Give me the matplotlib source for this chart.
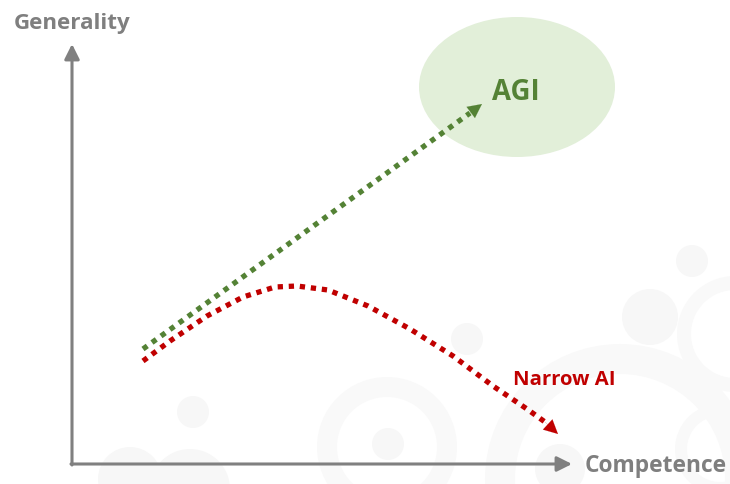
import matplotlib
matplotlib.use("Agg")
import matplotlib.pyplot as plt
from matplotlib.patches import Ellipse, Circle

# diagram coordinates (x to the right, y downwards, in figure pixels)
GREEN_X = [143, 470]
GREEN_Y = [350, 114]
GREEN_TIP = (482, 105)

RED_X = [143, 170, 207, 243, 275, 297, 328, 368, 410, 453, 493, 527, 545]
RED_Y = [362, 342, 317, 298, 288, 287, 291, 307, 330, 357, 387, 410, 423]
RED_TIP = (558, 435)

AXIS_ORIGIN = (72, 465)
AXIS_X_END = 572
AXIS_Y_END = 45

AGI_CENTER = (517, 88)
AGI_SIZE = (196, 140)

# faint decorative background circles: (x, y, radius, ring width or None)
BG_CIRCLES = [
    (193, 413, 16, None),
    (388, 445, 16, None),
    (387, 448, 70, 20),
    (130, 480, 32, None),
    (190, 490, 40, None),
    (467, 340, 16, None),
    (692, 262, 16, None),
    (650, 318, 28, None),
    (735, 335, 58, 14),
    (620, 480, 135, 30),
    (720, 450, 45, 12),
    (560, 470, 25, None),
]

GRAY = "#7f7f7f"
GREEN = "#548235"
RED = "#c00000"
FONT = ["Open Sans", "DejaVu Sans"]

fig = plt.figure(figsize=(7.3, 4.85), dpi=100)
ax = fig.add_axes([0, 0, 1, 1])
ax.set_xlim(0, 730)
ax.set_ylim(485, 0)
ax.axis("off")

for cx, cy, r, w in BG_CIRCLES:
    if w is None:
        ax.add_patch(Circle((cx, cy), r, facecolor="#f7f7f7", edgecolor="none", zorder=0))
    else:
        ax.add_patch(Circle((cx, cy), r - w / 2, facecolor="none", edgecolor="#f9f9f9",
                            linewidth=w * 0.72, zorder=0))

ax.add_patch(Ellipse(AGI_CENTER, AGI_SIZE[0], AGI_SIZE[1], facecolor="#e2efd9",
                     edgecolor="none", zorder=1))

# axes arrows
arrow_kw = dict(arrowstyle="-|>,head_length=0.9,head_width=0.45", color="#808080",
                linewidth=2.2, shrinkA=0, shrinkB=0)
ax.annotate("", xy=(AXIS_ORIGIN[0], AXIS_Y_END), xytext=(AXIS_ORIGIN[0], AXIS_ORIGIN[1] + 1),
            arrowprops=arrow_kw, zorder=2)
ax.annotate("", xy=(AXIS_X_END, AXIS_ORIGIN[1]), xytext=(AXIS_ORIGIN[0] - 1, AXIS_ORIGIN[1]),
            arrowprops=arrow_kw, zorder=2)

# dotted trajectories
ax.plot(GREEN_X, GREEN_Y, color=GREEN, linewidth=3.8, linestyle=(0, (1, 1.1)),
        dash_capstyle="butt", zorder=3)
ax.plot(RED_X, RED_Y, color=RED, linewidth=3.8, linestyle=(0, (1, 1.1)),
        dash_capstyle="butt", zorder=3)

head_kw = "-|>,head_length=1.0,head_width=0.5"
ax.annotate("", xy=GREEN_TIP, xytext=(GREEN_X[-1], GREEN_Y[-1]),
            arrowprops=dict(arrowstyle=head_kw, color=GREEN, linewidth=0.1,
                            shrinkA=0, shrinkB=0), zorder=3)
ax.annotate("", xy=RED_TIP, xytext=(RED_X[-1], RED_Y[-1]),
            arrowprops=dict(arrowstyle=head_kw, color=RED, linewidth=0.1,
                            shrinkA=0, shrinkB=0), zorder=3)

ax.text(14, 24, "Generality", color=GRAY, fontsize=16.1, fontweight="bold",
        family=FONT, ha="left", va="center")
ax.text(585, 466, "Competence", color=GRAY, fontsize=16.4, fontweight="bold",
        family=FONT, ha="left", va="center")
ax.text(516, 93, "AGI", color=GREEN, fontsize=19.8, fontweight="bold",
        family=FONT, ha="center", va="center", zorder=4)
ax.text(513, 380, "Narrow AI", color=RED, fontsize=14.6, fontweight="bold",
        family=FONT, ha="left", va="center")

fig.savefig("out.png", dpi=100)
